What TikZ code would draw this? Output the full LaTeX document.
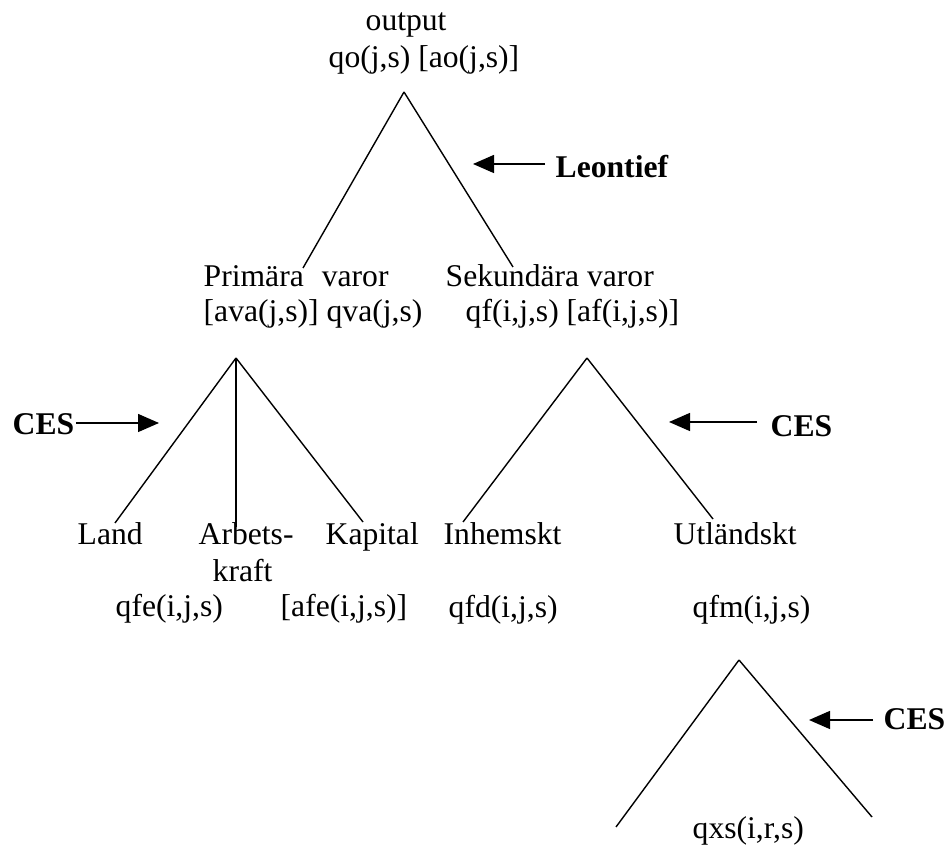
\documentclass[tikz,border=0pt]{standalone}
\usepackage{fontspec}
\setmainfont{Liberation Serif}
\usetikzlibrary{arrows.meta}

\begin{document}
\begin{tikzpicture}[x=0.02cm, y=-0.02cm, line width=0.8pt,
    txt/.style={anchor=base west, inner sep=0pt, font=\fontsize{18}{21}\selectfont},
    boldtxt/.style={txt, font=\fontsize{18}{21}\selectfont\bfseries},
    ptr/.style={-{Triangle[length=0.42cm, width=0.36cm]}}]
      \useasboundingbox (0,0) rectangle (947,847);
      % top level
      \node[txt] (output) at (365,31) {output};
      \node[txt] (qo) at (328,68) {qo(j,s) [ao(j,s)]};
      \coordinate (topapex) at (404,92);
      \coordinate (topleft) at (303,268);
      \coordinate (topright) at (513,267);
      \draw (topapex) -- (topleft);
      \draw (topapex) -- (topright);
      \node[boldtxt] (leon) at (555,178) {Leontief};
      \coordinate (leontail) at (545,164);
      \coordinate (leontip) at (473,164);
      \draw[ptr] (leontail) -- (leontip);
      % second level
      \node[txt] (prim) at (203,287) {Primära\hspace{0.36cm}varor};
      \node[txt] (ava) at (203,322) {[ava(j,s)] qva(j,s)};
      \node[txt] (sek) at (445,287) {Sekundära varor};
      \node[txt] (qf) at (465,322) {qf(i,j,s) [af(i,j,s)]};
      % primary factors
      \coordinate (primapex) at (236,358);
      \coordinate (landend) at (115,523);
      \coordinate (arbend) at (236,527);
      \coordinate (kapend) at (363,522);
      \draw (primapex) -- (landend);
      \draw (primapex) -- (arbend);
      \draw (primapex) -- (kapend);
      \node[boldtxt] (cesleft) at (12,435) {CES};
      \coordinate (cesltail) at (76,423);
      \coordinate (cesltip) at (159,423);
      \draw[ptr] (cesltail) -- (cesltip);
      % secondary goods
      \coordinate (sekapex) at (587,358);
      \coordinate (inhend) at (463,522);
      \coordinate (utlend) at (713,519);
      \draw (sekapex) -- (inhend);
      \draw (sekapex) -- (utlend);
      \node[boldtxt] (cesright) at (770,437) {CES};
      \coordinate (cesrtail) at (757,422);
      \coordinate (cesrtip) at (669,422);
      \draw[ptr] (cesrtail) -- (cesrtip);
      % third level
      \node[txt] (land) at (77,545) {Land};
      \node[txt] (arb) at (198,545) {Arbets-};
      \node[txt] (kraft) at (212,582) {kraft};
      \node[txt] (kap) at (325,545) {Kapital};
      \node[txt] (inh) at (443,545) {Inhemskt};
      \node[txt] (utl) at (673,545) {Utländskt};
      \node[txt] (qfe) at (115,617) {qfe(i,j,s)};
      \node[txt] (afe) at (280,617) {[afe(i,j,s)]};
      \node[txt] (qfd) at (448,618) {qfd(i,j,s)};
      \node[txt] (qfm) at (692,618) {qfm(i,j,s)};
      % imports by source
      \coordinate (impapex) at (739,660);
      \coordinate (impleft) at (616,827);
      \coordinate (impright) at (872,817);
      \draw (impapex) -- (impleft);
      \draw (impapex) -- (impright);
      \node[boldtxt] (cesbottom) at (883,729) {CES};
      \coordinate (cesbtail) at (873,720);
      \coordinate (cesbtip) at (809,720);
      \draw[ptr] (cesbtail) -- (cesbtip);
      \node[txt] (qxs) at (692,838) {qxs(i,r,s)};
\end{tikzpicture}
\end{document}
